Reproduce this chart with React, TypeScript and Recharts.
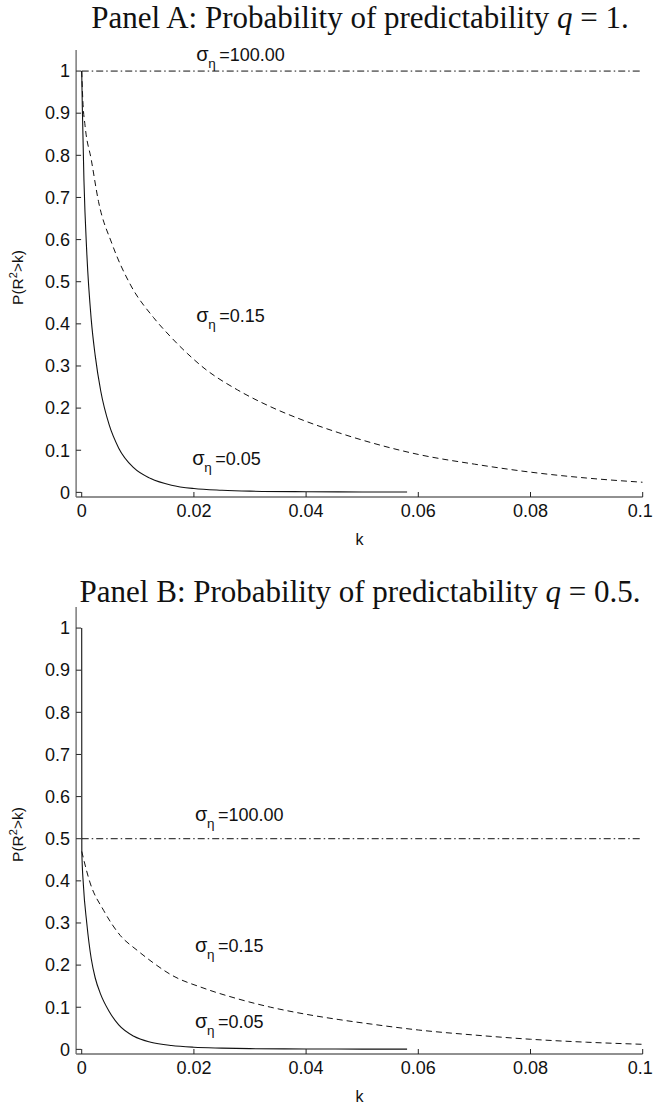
import React from "react";
import { LineChart, Line, XAxis, YAxis, ReferenceDot } from "recharts";

const SANS = "'Liberation Sans', Arial, Helvetica, sans-serif";
const SERIF = "'Liberation Serif', 'Times New Roman', serif";

// axis ticks
const xTicks = [0, 0.02, 0.04, 0.06, 0.08, 0.1];
const xTickLabels = ["0", "0.02", "0.04", "0.06", "0.08", "0.1"];
const yTicks = [0, 0.1, 0.2, 0.3, 0.4, 0.5, 0.6, 0.7, 0.8, 0.9, 1];
const yTickLabels = ["0", "0.1", "0.2", "0.3", "0.4", "0.5", "0.6", "0.7", "0.8", "0.9", "1"];

// Panel A, q = 1
const kA05 = [0, 0.0001, 0.0004, 0.0009, 0.0017, 0.0024, 0.0034, 0.0049, 0.0066, 0.0093, 0.0123, 0.016, 0.02, 0.025, 0.03, 0.04, 0.05, 0.058];
const pA05 = [1, 0.92, 0.74, 0.57, 0.41, 0.325, 0.24, 0.16, 0.105, 0.058, 0.033, 0.017, 0.009, 0.005, 0.003, 0.0016, 0.001, 0.0008];
const kA15 = [0, 0.0002, 0.0006, 0.0017, 0.003, 0.0054, 0.0088, 0.0128, 0.0158, 0.0188, 0.0218, 0.0278, 0.0337, 0.0397, 0.0457, 0.0516, 0.06, 0.07, 0.08, 0.09, 0.1];
const pA15 = [1, 0.93, 0.87, 0.79, 0.69, 0.59, 0.49, 0.415, 0.37, 0.33, 0.295, 0.243, 0.203, 0.17, 0.142, 0.118, 0.09, 0.067, 0.048, 0.034, 0.024];
const kA100 = [0, 0.1];
const pA100 = [1, 1];

// Panel B, q = 0.5
const kB05 = [0, 0.00002, 0.0003, 0.0009, 0.0017, 0.0024, 0.0034, 0.0049, 0.0066, 0.0093, 0.0123, 0.016, 0.02, 0.025, 0.03, 0.04, 0.05, 0.058];
const pB05 = [1, 0.47, 0.39, 0.3, 0.215, 0.17, 0.13, 0.09, 0.058, 0.031, 0.017, 0.009, 0.005, 0.003, 0.0017, 0.0009, 0.0006, 0.0005];
const kB15 = [0, 0.0015, 0.0039, 0.0069, 0.0099, 0.0128, 0.0158, 0.0218, 0.0278, 0.0337, 0.0397, 0.0457, 0.0516, 0.06, 0.07, 0.08, 0.09, 0.1];
const pB15 = [0.47, 0.395, 0.33, 0.27, 0.235, 0.205, 0.178, 0.145, 0.12, 0.1, 0.084, 0.071, 0.06, 0.046, 0.034, 0.024, 0.017, 0.012];
const kB100 = [0, 0.1];
const pB100 = [0.5, 0.5];

const zip = (ks: number[], ps: number[]) => ks.map((k, i) => ({ k, p: ps[i] }));

const TM_X = 7;
const TM_Y = 6;

function XTick(props: any) {
  const { x, y, payload } = props;
  const i = xTicks.indexOf(payload.value);
  const last = i === xTicks.length - 1;
  return (
    <g>
      <line x1={x} x2={x} y1={y - TM_X} y2={y - TM_X - 5} stroke="#222" />
      <text
        x={last ? x + 10 : x}
        y={y}
        dy="0.71em"
        textAnchor={last ? "end" : "middle"}
        fontSize={18}
        fill="#111"
        fontFamily={SANS}
      >
        {xTickLabels[i]}
      </text>
    </g>
  );
}

function YTick(props: any) {
  const { x, y, payload } = props;
  const lbl = yTickLabels[yTicks.indexOf(payload.value)];
  return (
    <g>
      <line x1={x + TM_Y} x2={x + TM_Y + 5} y1={y} y2={y} stroke="#222" />
      <text x={x} y={y} dy="0.35em" textAnchor="end" fontSize={18} fill="#111" fontFamily={SANS}>
        {lbl}
      </text>
    </g>
  );
}

function XTitle(props: any) {
  const vb = props.viewBox;
  return (
    <text x={vb.x + vb.width / 2} y={vb.y + 42} dy="0.35em" textAnchor="middle" fontSize={16} fill="#111" fontFamily={SANS}>
      k
    </text>
  );
}

function YTitle(props: any) {
  const vb = props.viewBox;
  const cx = vb.x + 1;
  const cy = vb.y + vb.height / 2 + 4;
  return (
    <text x={cx} y={cy} dy="0.35em" textAnchor="middle" fontSize={15.5} fill="#111" fontFamily={SANS} transform={`rotate(-90 ${cx} ${cy})`}>
      P(R
      <tspan fontSize={11} dy="-6">2</tspan>
      <tspan dy="6">&gt;k)</tspan>
    </text>
  );
}

const sigmaShape = (txt: string) => (props: any) => {
  const { cx, cy } = props;
  return (
    <g fontFamily={SANS} fill="#111">
      <text x={cx} y={cy} fontSize={20}>σ</text>
      <text x={cx + 12} y={cy + 7} fontSize={13.5}>η</text>
      <text x={cx + 23} y={cy} fontSize={18}>{txt}</text>
    </g>
  );
};

type Lab = { k: number; p: number; txt: string };

function Panel(props: {
  top: number;
  solid: { k: number; p: number }[];
  dashed: { k: number; p: number }[];
  dashdot: { k: number; p: number }[];
  labels: Lab[];
}) {
  return (
    <div style={{ position: "absolute", left: 0, top: props.top, width: 653, height: 551 }}>
      <LineChart width={653} height={551} margin={{ top: 50, right: 10.3, bottom: 0, left: 16.1 }}>
        <XAxis
          dataKey="k"
          type="number"
          domain={[-0.001, 0.1]}
          allowDataOverflow
          ticks={xTicks}
          interval={0}
          tickSize={0}
          tickMargin={TM_X}
          tickLine={false}
          height={54}
          axisLine={{ stroke: "#222" }}
          tick={<XTick />}
          label={<XTitle />}
        />
        <YAxis
          type="number"
          domain={[-0.011, 1.05]}
          allowDataOverflow
          ticks={yTicks}
          interval={0}
          tickSize={0}
          tickMargin={TM_Y}
          tickLine={false}
          width={60}
          axisLine={{ stroke: "#666", strokeWidth: 1.3 }}
          tick={<YTick />}
          label={<YTitle />}
        />
        <Line data={props.dashdot} dataKey="p" type="linear" stroke="#111" strokeWidth={1} strokeDasharray="7 3 1.5 3" dot={false} isAnimationActive={false} />
        <Line data={props.dashed} dataKey="p" type="monotone" stroke="#111" strokeWidth={1} strokeDasharray="6 4" dot={false} isAnimationActive={false} />
        <Line data={props.solid} dataKey="p" type="monotone" stroke="#111" strokeWidth={1.1} dot={false} isAnimationActive={false} />
        {props.labels.map((l) => (
          <ReferenceDot key={l.txt} x={l.k} y={l.p} r={0} ifOverflow="visible" shape={sigmaShape(l.txt)} />
        ))}
      </LineChart>
    </div>
  );
}

const titleStyle: React.CSSProperties = {
  position: "absolute",
  left: 0,
  width: 653,
  boxSizing: "border-box",
  paddingLeft: 67,
  height: 35,
  lineHeight: "35px",
  textAlign: "center",
  whiteSpace: "nowrap",
  fontFamily: SERIF,
  fontSize: 31,
  color: "#111",
};

export default function App() {
  return (
    <div style={{ position: "absolute", left: 0, top: 0, width: 653, height: 1108, background: "#fff", overflow: "hidden" }}>
      <div style={{ ...titleStyle, top: 0 }}>
        Panel A: Probability of predictability <i>q</i> = 1.
      </div>
      <Panel
        top={0}
        solid={zip(kA05, pA05)}
        dashed={zip(kA15, pA15)}
        dashdot={zip(kA100, pA100)}
        labels={[
          { k: 0.0204, p: 1.024, txt: "=100.00" },
          { k: 0.0204, p: 0.404, txt: "=0.15" },
          { k: 0.0197, p: 0.065, txt: "=0.05" },
        ]}
      />
      <div style={{ ...titleStyle, top: 574 }}>
        Panel B: Probability of predictability <i>q</i> = 0.5.
      </div>
      <Panel
        top={557}
        solid={zip(kB05, pB05)}
        dashed={zip(kB15, pB15)}
        dashdot={zip(kB100, pB100)}
        labels={[
          { k: 0.0202, p: 0.542, txt: "=100.00" },
          { k: 0.0202, p: 0.231, txt: "=0.15" },
          { k: 0.0202, p: 0.051, txt: "=0.05" },
        ]}
      />
    </div>
  );
}
